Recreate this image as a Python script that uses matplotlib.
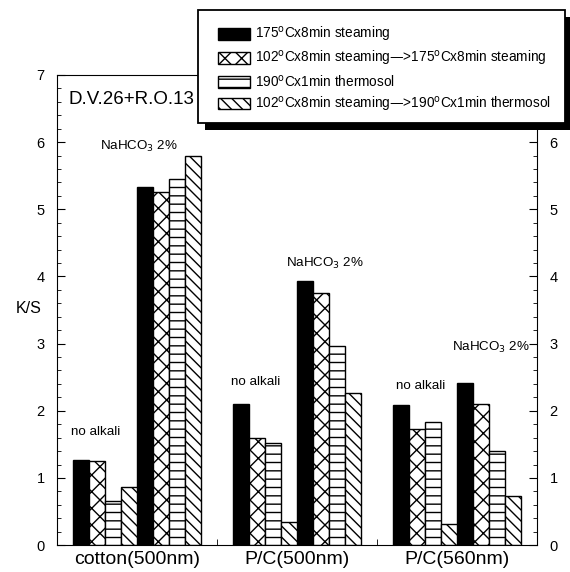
import matplotlib.pyplot as plt
from matplotlib.patches import Rectangle
from matplotlib.ticker import MultipleLocator, FixedLocator

plt.rcParams['font.family'] = ['Liberation Sans', 'DejaVu Sans']
plt.rcParams['hatch.linewidth'] = 1.0

# 6 clusters: cotton no alkali / NaHCO3, P/C500 no alkali / NaHCO3, P/C560 no alkali / NaHCO3
cluster_left = [1, 5, 11, 15, 21, 25]
steam175 = [1.27, 5.33, 2.10, 3.93, 2.08, 2.42]
steam102_175 = [1.25, 5.25, 1.60, 3.75, 1.73, 2.10]
thermo190 = [0.65, 5.45, 1.52, 2.97, 1.83, 1.40]
steam102_thermo190 = [0.86, 5.79, 0.35, 2.27, 0.32, 0.73]

categories = ['cotton(500nm)', 'P/C(500nm)', 'P/C(560nm)']
cat_pos = [5, 15, 25]

labels = ['175$^{\\mathrm{o}}$Cx8min steaming',
          '102$^{\\mathrm{o}}$Cx8min steaming\u2014>175$^{\\mathrm{o}}$Cx8min steaming',
          '190$^{\\mathrm{o}}$Cx1min thermosol',
          '102$^{\\mathrm{o}}$Cx8min steaming\u2014>190$^{\\mathrm{o}}$Cx1min thermosol']
series = [steam175, steam102_175, thermo190, steam102_thermo190]
faces = ['black', 'white', 'white', 'white']
hatches = [None, 'xx', '--', '\\\\\\']

# annotations (x, y, text)
notes = [(2.4, 1.68, 'no alkali'), (5.1, 5.93, 'NaHCO$_3$ 2%'),
         (12.4, 2.43, 'no alkali'), (16.75, 4.2, 'NaHCO$_3$ 2%'),
         (22.7, 2.37, 'no alkali'), (27.1, 2.95, 'NaHCO$_3$ 2%')]

W, H = 570, 572
fig = plt.figure(figsize=(5.7, 5.72), dpi=100)
ax = fig.add_axes([0.1, 0.047, 0.842, 0.822])

handles = []
for i, vals in enumerate(series):
    xs = [c + i for c in cluster_left]
    b = ax.bar(xs, vals, width=1, align='edge', color=faces[i], edgecolor='black',
               hatch=hatches[i], linewidth=1.0)
    handles.append(b)

for x, y, t in notes:
    ax.text(x, y, t, ha='center', va='center', fontsize=9.6)

ax.text(0.7, 6.63, 'D.V.26+R.O.13', ha='left', va='center', fontsize=13.5)

ax.set_xlim(0, 30)
ax.set_ylim(0, 7)
ax.set_xticks(cat_pos)
ax.set_xticklabels(categories, fontsize=14)
ax.xaxis.set_minor_locator(FixedLocator([10, 20]))
ax.tick_params(axis='x', which='major', length=0, pad=4)
ax.tick_params(axis='x', which='minor', direction='in', length=4)
ax.yaxis.set_major_locator(MultipleLocator(1))
ax.yaxis.set_minor_locator(MultipleLocator(0.2))
ax.tick_params(axis='y', which='both', direction='in', left=True, right=True,
               labelleft=True, labelright=True, labelsize=10.5)
ax.tick_params(axis='y', which='major', length=6, pad=9)
ax.tick_params(axis='y', which='minor', length=3)
ax.set_ylabel('K/S', fontsize=11.5, rotation=0, va='center')
ax.yaxis.set_label_coords(-0.058, 0.504)

# legend frame + shadow drawn by hand to match box size
x0, x1, y0, y1 = 198, 565, 10, 123
fig.patches.append(Rectangle(((x0 + 7) / W, 1 - (y1 + 7) / H), (x1 - x0) / W, (y1 - y0) / H,
                             transform=fig.transFigure, facecolor='black',
                             edgecolor='none', zorder=4))
fig.patches.append(Rectangle((x0 / W, 1 - y1 / H), (x1 - x0) / W, (y1 - y0) / H,
                             transform=fig.transFigure, facecolor='white',
                             edgecolor='black', linewidth=1.3, zorder=4.5))

leg = fig.legend(handles, labels, loc='upper left', bbox_to_anchor=(218 / W, 1 - 25 / H),
                 fontsize=9.8, frameon=False, handlelength=2.35, handleheight=0.95,
                 labelspacing=0.38, borderpad=0, borderaxespad=0, handletextpad=0.4)
leg.set_zorder(5)

fig.savefig('out.png', dpi=100)
